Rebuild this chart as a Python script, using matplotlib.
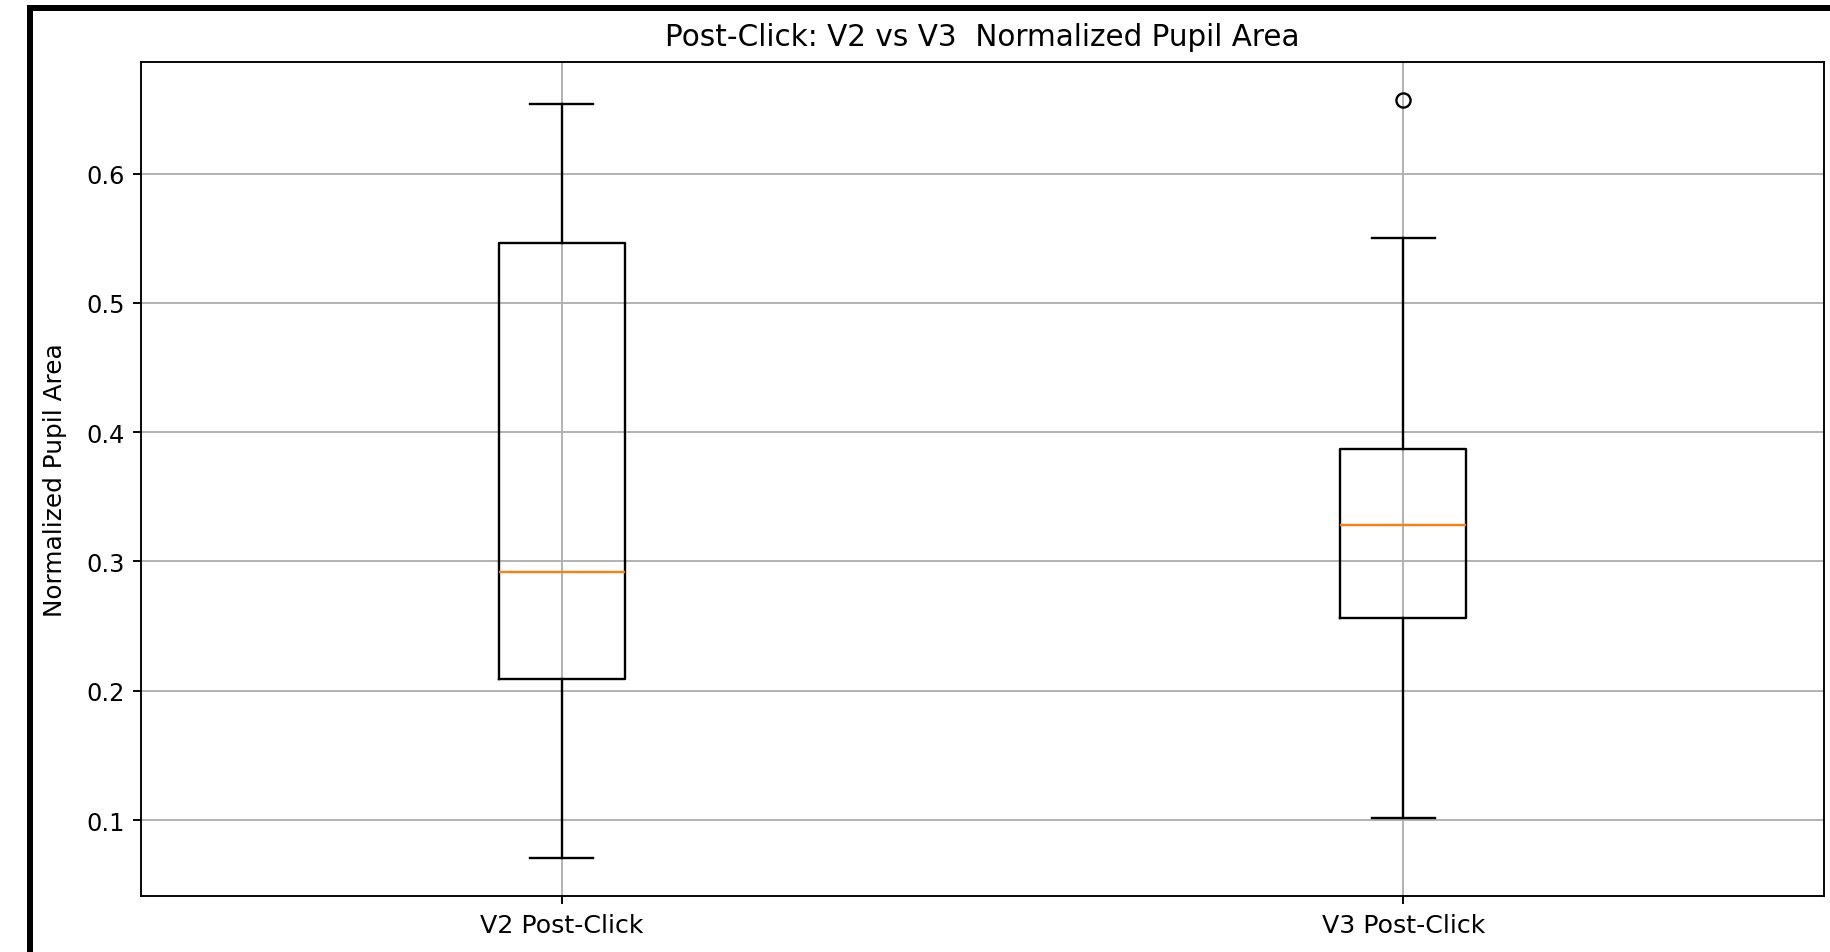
import matplotlib
matplotlib.use("Agg")
import matplotlib.pyplot as plt
from matplotlib.patches import Rectangle

# Summary statistics of normalized pupil area, post-click, per version
labels = ["V2 Post-Click", "V3 Post-Click"]
medians = [0.292, 0.328]
q1 = [0.209, 0.256]
q3 = [0.546, 0.387]
whisker_low = [0.0706, 0.1015]
whisker_high = [0.654, 0.550]
fliers = [[], [0.657]]

stats = []
for i, lab in enumerate(labels):
    stats.append({
        "label": lab,
        "med": medians[i],
        "q1": q1[i],
        "q3": q3[i],
        "whislo": whisker_low[i],
        "whishi": whisker_high[i],
        "fliers": fliers[i],
    })

DPI = 170
fig = plt.figure(figsize=(1830 / DPI, 953 / DPI), dpi=DPI)
W, H = 1830, 953
ax = fig.add_axes([141 / W, 1 - 897 / H, (1824 - 141) / W, (897 - 63) / H])

ax.bxp(stats, showfliers=True)
ax.grid(True)
ax.set_title("Post-Click: V2 vs V3  Normalized Pupil Area", fontsize=12.5, pad=7)
ax.set_ylabel("Normalized Pupil Area", fontsize=10.5, labelpad=8)
ax.tick_params(axis="x", labelsize=10.7)
ax.tick_params(axis="y", labelsize=10.2)

# frame lines along the top and left edges
fig.patches.append(Rectangle((27 / W, 0), 6 / W, 1 - 6 / H, transform=fig.transFigure,
                             facecolor="black", edgecolor="none", zorder=10))
fig.patches.append(Rectangle((27 / W, 1 - 12 / H), 1 - 27 / W, 6 / H, transform=fig.transFigure,
                             facecolor="black", edgecolor="none", zorder=10))

fig.savefig("out.png", dpi=DPI)
